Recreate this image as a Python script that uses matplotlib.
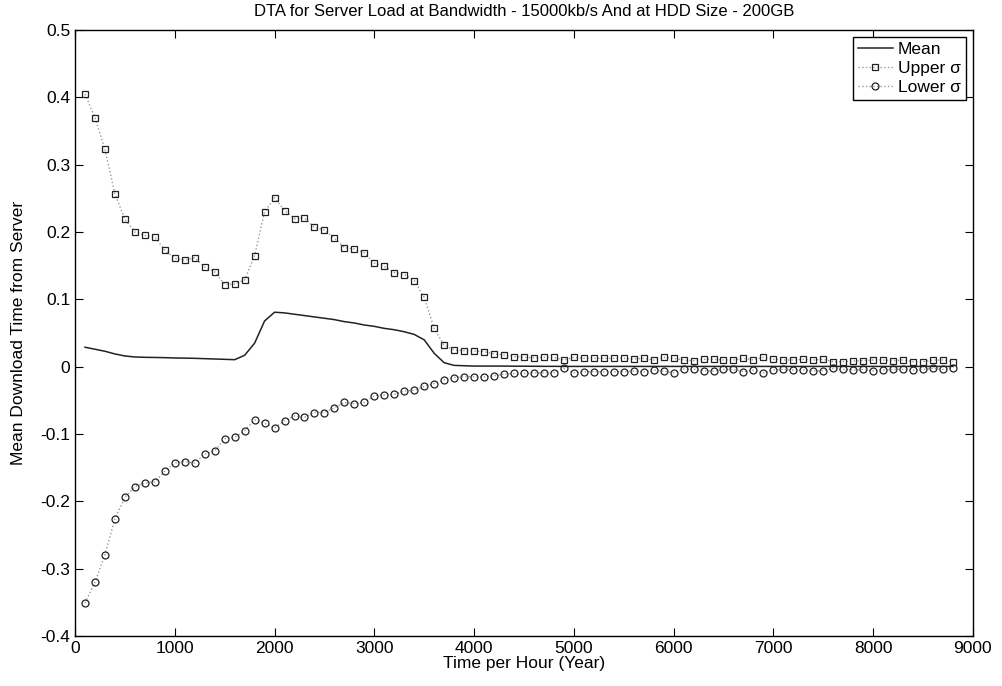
import numpy as np
import matplotlib
matplotlib.use("Agg")
import matplotlib.pyplot as plt

plt.rcParams['font.family'] = ['Liberation Sans', 'DejaVu Sans']

# time axis: one sample every 100 hours
hours = list(range(100, 8900, 100))

mean_vals = [
    0.029, 0.026, 0.023, 0.019, 0.016, 0.0145, 0.014, 0.0138, 0.0135, 0.013,
    0.0128, 0.0125, 0.012, 0.0115, 0.011, 0.0105, 0.017, 0.035, 0.068, 0.081,
    0.080, 0.078, 0.076, 0.074, 0.072, 0.070, 0.067, 0.065, 0.062, 0.060,
    0.057, 0.055, 0.052, 0.048, 0.040, 0.020, 0.006, 0.002, 0.0015, 0.001,
    0.001, 0.001, 0.001, 0.0008, 0.0008, 0.0007, 0.0006, 0.0006, 0.0005, 0.0005,
    0.0005, 0.0005, 0.0005, 0.0005, 0.0005, 0.0005, 0.0005, 0.0005, 0.0005, 0.0005,
    0.0005, 0.0005, 0.0005, 0.0005, 0.0005, 0.0005, 0.0005, 0.0005, 0.0005, 0.0005,
    0.0005, 0.0005, 0.0005, 0.0005, 0.0005, 0.0005, 0.0005, 0.0005, 0.0005, 0.0005,
    0.0005, 0.0005, 0.0005, 0.0005, 0.0005, 0.0005, 0.0005, 0.0005,
]

upper_vals = [
    0.405, 0.370, 0.323, 0.257, 0.219, 0.200, 0.195, 0.193, 0.173, 0.161,
    0.158, 0.162, 0.148, 0.141, 0.122, 0.123, 0.129, 0.165, 0.230, 0.251,
    0.232, 0.220, 0.221, 0.207, 0.203, 0.191, 0.177, 0.175, 0.169, 0.154,
    0.149, 0.140, 0.137, 0.128, 0.103, 0.057, 0.032, 0.025, 0.024, 0.0235,
    0.0225, 0.019, 0.0175, 0.015, 0.014, 0.0135, 0.014, 0.014, 0.010, 0.014,
    0.0125, 0.0125, 0.0125, 0.0125, 0.0125, 0.0115, 0.0125, 0.010, 0.014, 0.0125,
    0.010, 0.009, 0.011, 0.011, 0.010, 0.010, 0.0125, 0.010, 0.014, 0.011,
    0.010, 0.010, 0.011, 0.010, 0.011, 0.0075, 0.0075, 0.0085, 0.009, 0.010,
    0.010, 0.009, 0.010, 0.0075, 0.0075, 0.010, 0.010, 0.0075,
]

lower_vals = [
    -0.351, -0.320, -0.279, -0.226, -0.194, -0.178, -0.173, -0.171, -0.155, -0.143,
    -0.141, -0.143, -0.130, -0.125, -0.107, -0.105, -0.095, -0.079, -0.084, -0.091,
    -0.080, -0.073, -0.075, -0.068, -0.068, -0.061, -0.053, -0.055, -0.053, -0.043,
    -0.042, -0.041, -0.036, -0.035, -0.029, -0.025, -0.0195, -0.016, -0.015, -0.015,
    -0.015, -0.0135, -0.011, -0.010, -0.010, -0.009, -0.009, -0.009, -0.0025, -0.009,
    -0.0075, -0.0075, -0.0075, -0.0075, -0.0075, -0.0065, -0.0075, -0.005, -0.0065, -0.009,
    -0.0035, -0.0035, -0.006, -0.0065, -0.004, -0.004, -0.0075, -0.005, -0.009, -0.005,
    -0.004, -0.005, -0.005, -0.006, -0.006, -0.0025, -0.004, -0.005, -0.004, -0.006,
    -0.005, -0.004, -0.004, -0.005, -0.004, -0.0025, -0.004, -0.0025,
]

fig = plt.figure(figsize=(10.03, 6.86), dpi=100)
ax = fig.add_axes([0.0748, 0.0729, 0.8952, 0.8831])

ax.plot(hours, mean_vals, color='#222222', lw=1.1, label='Mean')
ax.plot(hours, upper_vals, color='#999999', lw=1.0, ls=':', marker='s',
        markersize=5, markerfacecolor='none', markeredgecolor='#222222',
        markeredgewidth=0.9, label='Upper σ')
ax.plot(hours, lower_vals, color='#999999', lw=1.0, ls=':', marker='o',
        markersize=5, markerfacecolor='none', markeredgecolor='#222222',
        markeredgewidth=0.9, label='Lower σ')

ax.set_xlim(0, 9000)
ax.set_ylim(-0.4, 0.5)
ax.set_xticks(range(0, 9001, 1000))
ax.set_yticks(np.arange(-0.4, 0.51, 0.1))
ax.set_yticklabels(['-0.4', '-0.3', '-0.2', '-0.1', '0', '0.1', '0.2', '0.3', '0.4', '0.5'])
ax.tick_params(direction='in', top=True, right=True, labelsize=12.5, length=6)
for s in ax.spines.values():
    s.set_linewidth(1.0)

ax.set_title('DTA for Server Load at Bandwidth - 15000kb/s And at HDD Size - 200GB',
             fontsize=12, pad=10)
ax.set_xlabel('Time per Hour (Year)', fontsize=12.5, labelpad=0)
ax.set_ylabel('Mean Download Time from Server', fontsize=12.5, labelpad=10)

leg = ax.legend(loc='upper right', fontsize=12.5, fancybox=False, framealpha=1,
                edgecolor='black', handlelength=2.0, borderpad=0.3,
                labelspacing=0.2, handletextpad=0.3, borderaxespad=0.4)
leg.get_frame().set_linewidth(1.0)

fig.savefig('out.png', dpi=100)
